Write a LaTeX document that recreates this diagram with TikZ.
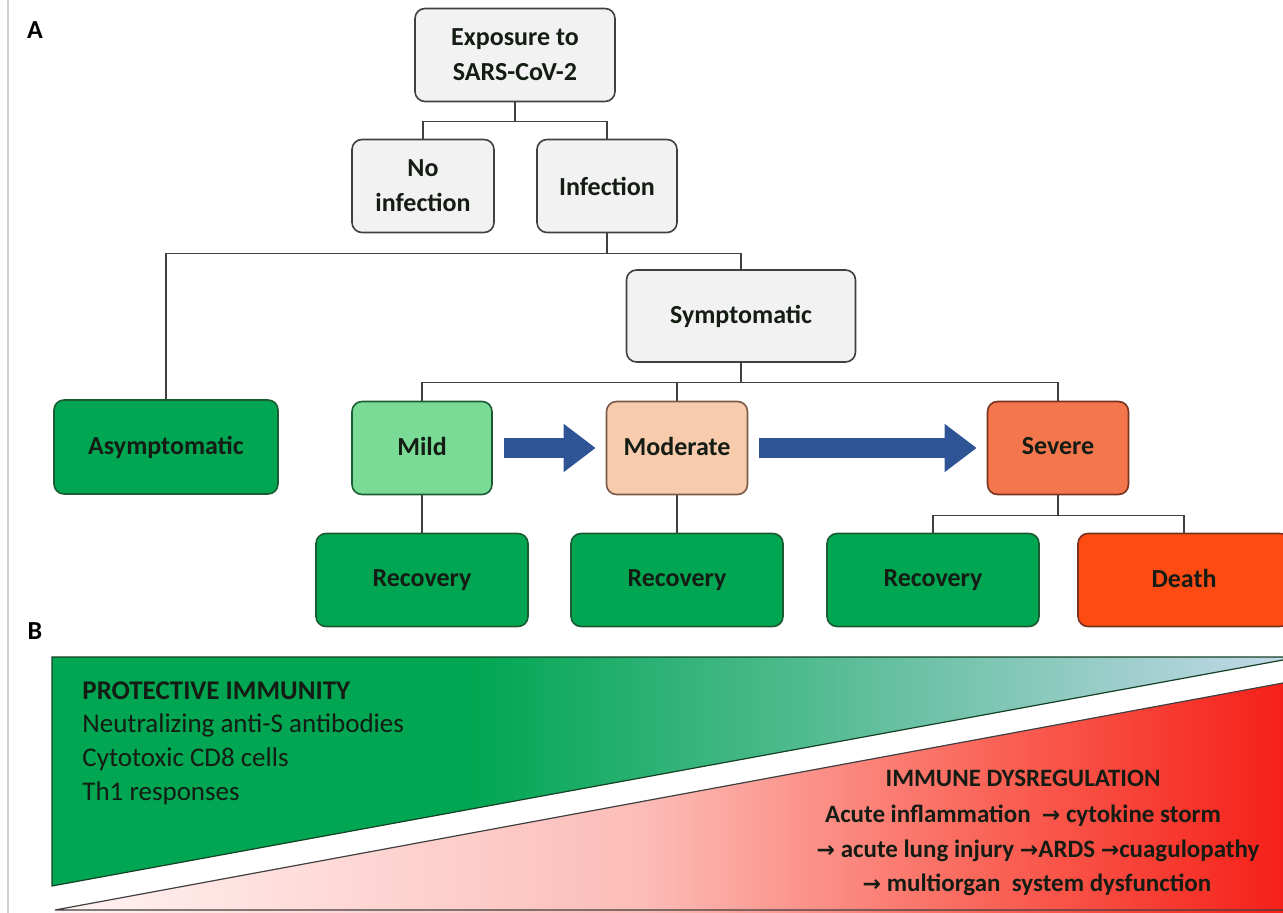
\documentclass[tikz,border=0pt]{standalone}
\usepackage{fontspec}
\setmainfont{Carlito}
\newfontfamily\arrowfont{DejaVu Sans}
\usepackage{tikz}
\usetikzlibrary{arrows.meta}
\pgfdeclarelayer{edgelayer}
\pgfdeclarelayer{nodelayer}
\pgfsetlayers{edgelayer,main,nodelayer}
\definecolor{boxgray}{RGB}{242,242,242}
\definecolor{boxline}{RGB}{64,64,64}
\definecolor{recgreen}{RGB}{0,166,81}
\definecolor{recline}{RGB}{28,92,52}
\definecolor{mildgreen}{RGB}{122,219,150}
\definecolor{modpeach}{RGB}{248,203,173}
\definecolor{modline}{RGB}{120,90,70}
\definecolor{sevorange}{RGB}{244,118,76}
\definecolor{sevline}{RGB}{120,50,30}
\definecolor{deathred}{RGB}{252,76,20}
\definecolor{arrowblue}{RGB}{47,84,150}
\definecolor{protA}{RGB}{0,166,81}
\definecolor{protB}{RGB}{196,216,234}
\definecolor{dysA}{RGB}{255,243,243}
\definecolor{dysB}{RGB}{252,188,183}
\definecolor{dysC}{RGB}{250,100,88}
\definecolor{dysD}{RGB}{245,32,24}
\definecolor{textdark}{RGB}{20,28,20}
\pgfdeclarehorizontalshading{protshade}{100bp}{color(0bp)=(protA); color(25bp)=(protA); color(42bp)=(protA); color(75bp)=(protB); color(100bp)=(protB)}
\pgfdeclarehorizontalshading{dysshade}{100bp}{color(0bp)=(dysA); color(25bp)=(dysA); color(49bp)=(dysB); color(63bp)=(dysC); color(75bp)=(dysD); color(100bp)=(dysD)}
\newcommand{\arr}{{\arrowfont\fontsize{11}{11}\selectfont →}}
\tikzstyle{stage}=[rectangle, rounded corners=5pt, line width=0.8pt, minimum height=46.5pt, inner sep=0pt, align=center, font=\bfseries\fontsize{13}{17.5}\selectfont, text=textdark]
\tikzstyle{greybox}=[stage, draw=boxline, fill=boxgray]
\tikzstyle{greenbox}=[stage, draw=recline, fill=recgreen]
\tikzstyle{edge}=[draw=boxline, line width=0.6pt]
\tikzstyle{progress}=[draw=arrowblue, line width=10pt, -{Triangle[length=16pt,width=23pt]}, shorten <=5.5pt, shorten >=5pt]
\tikzstyle{panel}=[font=\bfseries\fontsize{13}{13}\selectfont]
\tikzstyle{protline}=[anchor=base west, inner sep=0pt, text=textdark, font=\fontsize{13.5}{13.5}\selectfont]
\tikzstyle{dysline}=[anchor=base, inner sep=0pt, text=textdark, font=\bfseries\fontsize{12.5}{12.5}\selectfont]
\begin{document}
\begin{tikzpicture}[x=0.5pt, y=-0.5pt]
	\useasboundingbox (0,0) rectangle (1283,913);
	\draw [gray!35, line width=0.6pt] (8,0) -- (8,913);
	\begin{pgfonlayer}{nodelayer}
		\node [style=panel] (A) at (35,30) {A};
		\node [style=panel] (B) at (35,631) {B};
		\node [style=greybox, minimum width=100pt] (expo) at (515,55) {Exposure to\\SARS-CoV-2};
		\node [style=greybox, minimum width=71pt] (noinf) at (423,186) {No\\infection};
		\node [style=greybox, minimum width=70pt] (inf) at (607,186) {Infection};
		\node [style=greybox, minimum width=114.5pt, minimum height=46pt] (sympt) at (741,316) {Symptomatic};
		\node [style=greenbox, minimum width=112pt, minimum height=47pt] (asympt) at (166,447) {Asymptomatic};
		\node [style=stage, draw=recline, fill=mildgreen, minimum width=70pt] (mild) at (422,448) {Mild\vphantom{y}};
		\node [style=stage, draw=modline, fill=modpeach, minimum width=70.5pt] (moder) at (677,448) {Moderate\vphantom{y}};
		\node [style=stage, draw=sevline, fill=sevorange, minimum width=70.5pt] (severe) at (1058,448) {Severe\vphantom{y}};
		\node [style=greenbox, minimum width=106pt] (rec1) at (422,580) {Recovery};
		\node [style=greenbox, minimum width=106pt] (rec2) at (677,580) {Recovery};
		\node [style=greenbox, minimum width=106pt] (rec3) at (933,580) {Recovery};
		\node [style=stage, draw=sevline, fill=deathred, minimum width=106pt] (death) at (1184,580) {Death\vphantom{y}};
		% panel B texts
		\node [style=protline, font=\bfseries\fontsize{13.5}{13.5}\selectfont] (prot0) at (82,699) {PROTECTIVE IMMUNITY};
		\node [style=protline] (prot1) at (82,732) {Neutralizing anti-S antibodies};
		\node [style=protline] (prot2) at (82,766) {Cytotoxic CD8 cells};
		\node [style=protline] (prot3) at (82,800) {Th1 responses};
		\node [style=dysline] (dys0) at (1023,786) {IMMUNE DYSREGULATION};
		\node [style=dysline] (dys1) at (1023,822) {Acute inflammation \ \arr\ cytokine storm};
		\node [style=dysline] (dys2) at (1038,857) {\arr\ acute lung injury \arr ARDS \arr cuagulopathy};
		\node [style=dysline] (dys3) at (1037,891) {\arr\ multiorgan \ system dysfunction};
	\end{pgfonlayer}
	\begin{pgfonlayer}{edgelayer}
		\draw [style=edge] (expo.south) -- ++(0,19) coordinate (bus1);
		\draw [style=edge] (bus1) -| (noinf.north);
		\draw [style=edge] (bus1) -| (inf.north);
		\draw [style=edge] (inf.south) -- ++(0,20) coordinate (bus2);
		\draw [style=edge] (bus2) -| (asympt.north);
		\draw [style=edge] (bus2) -| (sympt.north);
		\draw [style=edge] (sympt.south) -- ++(0,20) coordinate (bus3);
		\draw [style=edge] (bus3) -| (mild.north);
		\draw [style=edge] (bus3) -| (moder.north);
		\draw [style=edge] (bus3) -| (severe.north);
		\draw [style=edge] (mild) -- (rec1);
		\draw [style=edge] (moder) -- (rec2);
		\draw [style=edge] (severe.south) -- ++(0,20) coordinate (bus4);
		\draw [style=edge] (bus4) -| (rec3.north);
		\draw [style=edge] (bus4) -| (death.north);
		% immune wedges
		\shade [shading=protshade] (52,657) -- (1283,657) -- (1283,660) -- (52,886) -- cycle;
		\draw [draw=recline!70!black, line width=0.6pt] (1283,657) -- (52,657) -- (52,886) -- (1283,660);
		\shade [shading=dysshade] (55,910) -- (1283,683) -- (1283,913) -- (55,913) -- cycle;
		\draw [draw=black!75, line width=0.6pt] (1283,683) -- (55,910) -- (1283,910);
	\end{pgfonlayer}
	\draw [style=progress] (mild) -- (moder);
	\draw [style=progress] (moder) -- (severe);
\end{tikzpicture}
\end{document}
